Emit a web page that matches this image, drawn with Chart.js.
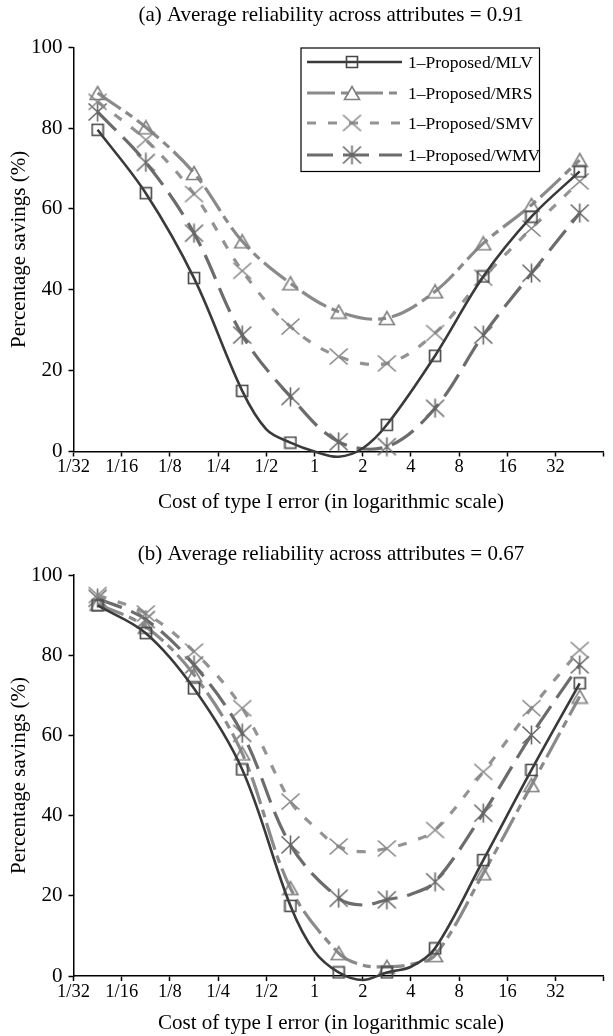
<!DOCTYPE html>
<html>
<head>
<meta charset="utf-8">
<title>Percentage savings vs cost of type I error</title>
<script src="https://cdn.jsdelivr.net/npm/chart.js@4.4.1/dist/chart.umd.min.js"></script>
<style>
  html, body { margin: 0; padding: 0; background: #fff; }
  canvas { display: block; }
</style>
</head>
<body>
<canvas id="chartA" width="613" height="515"></canvas>
<canvas id="chartB" width="613" height="521"></canvas>
<script>
// cost of type I error in log2 units, half-octave grid (markers sit on the odd half-octaves)
const costLog2 = [-4.5, -4, -3.5, -3, -2.5, -2, -1.5, -1, -0.5, 0, 0.5, 1, 1.5, 2, 2.5, 3, 3.5, 4, 4.5, 5, 5.5]
const tickLabels = ['1/32', '1/16', '1/8', '1/4', '1/2', '1', '2', '4', '8', '16', '32', '']
const seriesNames = ['1–Proposed/MLV', '1–Proposed/MRS', '1–Proposed/SMV', '1–Proposed/WMV']
const xTitle = 'Cost of type I error (in logarithmic scale)'
const yTitle = 'Percentage savings (%)'

// (a) average reliability 0.91  -- null = nothing read there
const mlvA = [79.6, null, 63.9, null, 42.9, null, 15.0, 5.5, 2.2, 0.0, -1.3, 0.8, 6.6, null, 23.7, null, 43.3, null, 58.1, null, 69.3]
const mrsA = [88.7, null, 80.2, null, 68.9, null, 52.0, null, 41.6, null, 34.6, null, 33.0, null, 39.6, null, 51.5, null, 61.0, null, 72.1]
const smvA = [86.5, null, 77.1, null, 63.7, null, 44.7, null, 30.9, null, 23.5, null, 21.8, null, 29.3, null, 43.0, null, 55.2, null, 66.8]
const wmvA = [84.0, null, 71.5, null, 54.0, null, 28.8, null, 13.6, null, 2.4, null, 1.2, null, 10.7, null, 28.8, null, 44.1, null, 59.0]

// (b) average reliability 0.67
const mlvB = [92.4, null, 85.5, null, 71.7, null, 51.5, null, 17.5, 6.1, 0.9, -1.0, 0.9, 2.3, 6.9, null, 28.9, null, 51.4, null, 73.0]
const mrsB = [92.8, null, 87.1, null, 75.1, null, 55.5, null, 21.9, null, 5.7, 2.7, 2.3, 2.9, 5.2, null, 25.6, null, 47.6, null, 69.7]
const smvB = [95.0, null, 90.4, null, 80.9, null, 66.8, null, 43.5, 37.2, 32.3, 31.0, 31.8, 33.5, 36.4, null, 50.9, null, 66.8, null, 81.3]
const wmvB = [94.2, null, 88.9, null, 77.6, null, 60.5, null, 32.7, null, 19.4, 17.7, 19.0, 20.4, 23.5, null, 40.6, null, 60.1, null, 77.6]

const FONT = "'Liberation Serif', 'Times New Roman', serif"
Chart.defaults.font.family = FONT
Chart.defaults.color = '#000'

// marker glyphs drawn once on small canvases
function marker(kind, color) {
  const c = document.createElement('canvas')
  const sizes = { square: [14, 14], triangle: [18, 16], cross: [21, 19], star: [21, 20] }
  c.width = sizes[kind][0]
  c.height = sizes[kind][1]
  const g = c.getContext('2d')
  g.strokeStyle = color
  g.lineWidth = 1.6
  g.beginPath()
  if (kind === 'square') {
    g.rect(1.5, 1.5, 11, 11)
  } else if (kind === 'triangle') {
    g.moveTo(9, 1.5); g.lineTo(16.5, 14.5); g.lineTo(1.5, 14.5); g.closePath()
  } else {
    g.moveTo(1.5, 1.5); g.lineTo(c.width - 1.5, c.height - 1.5)
    g.moveTo(c.width - 1.5, 1.5); g.lineTo(1.5, c.height - 1.5)
    if (kind === 'star') { g.moveTo(c.width / 2, 0.5); g.lineTo(c.width / 2, c.height - 0.5) }
  }
  g.stroke()
  return c
}

const looks = [
  { color: '#3a3a3a', width: 2.6, dash: [], point: marker('square', '#444') },
  { color: '#8a8a8a', width: 3.2, dash: [28, 6, 8, 6], point: marker('triangle', '#808080') },
  { color: '#939393', width: 3.2, dash: [9, 12], point: marker('cross', '#858585') },
  { color: '#6c6c6c', width: 3.2, dash: [26, 10], point: marker('star', '#666') }
]

function datasets(series) {
  return series.map((vals, s) => ({
    label: seriesNames[s],
    data: costLog2.map((x, i) => ({ x, y: vals[i] })),
    borderColor: looks[s].color,
    borderWidth: looks[s].width,
    borderDash: looks[s].dash,
    pointStyle: looks[s].point,
    // markers only on the odd half-octaves, and not below the axis
    pointRadius: ctx => (ctx.dataIndex % 2 === 0 && ctx.raw && ctx.raw.y >= 0) ? 6 : 0,
    pointHoverRadius: 0,
    tension: 0.35,
    spanGaps: true,
    clip: false,
    fill: false
  }))
}

const legendBox = {
  id: 'legendBox',
  afterDatasetsDraw(chart) {
    const ctx = chart.ctx
    ctx.save()
    ctx.fillStyle = '#fff'
    ctx.fillRect(301, 48, 238.5, 123.5)
    ctx.strokeStyle = '#000'
    ctx.lineWidth = 1.2
    ctx.strokeRect(301, 48, 238.5, 123.5)
    const rows = [62, 93, 123, 155]
    looks.forEach((lk, i) => {
      const y = rows[i]
      ctx.strokeStyle = lk.color
      ctx.lineWidth = lk.width
      ctx.setLineDash(lk.dash)
      ctx.beginPath()
      ctx.moveTo(307, y)
      ctx.lineTo(402, y)
      ctx.stroke()
      ctx.setLineDash([])
      ctx.drawImage(lk.point, 352 - lk.point.width / 2, y - lk.point.height / 2)
      ctx.fillStyle = '#000'
      ctx.font = '17.5px ' + FONT
      ctx.textAlign = 'left'
      ctx.textBaseline = 'middle'
      ctx.fillText(seriesNames[i], 408, y + 1)
    })
    ctx.restore()
  }
}

// panel heading and x-axis caption, both centred on the figure column
const captions = {
  id: 'captions',
  afterDraw(chart, args, opts) {
    const ctx = chart.ctx
    ctx.save()
    ctx.fillStyle = '#000'
    ctx.font = '21px ' + FONT
    ctx.textAlign = 'center'
    ctx.textBaseline = 'middle'
    ctx.fillText(opts.title, 331, opts.titleY)
    ctx.fillText(xTitle, 331, chart.height - 12.6)
    ctx.restore()
  }
}

function axisGrid() {
  return { drawOnChartArea: false, drawTicks: true, tickLength: 5, tickWidth: 1.5, tickColor: '#000' }
}

function buildChart(id, title, series, top, titleY, xHeight, plugins) {
  return new Chart(document.getElementById(id), {
    type: 'line',
    data: { datasets: datasets(series) },
    plugins: [captions, ...plugins],
    options: {
      responsive: false,
      animation: false,
      layout: { padding: { top, right: 1 } },
      plugins: {
        legend: { display: false },
        tooltip: { enabled: false },
        title: { display: false },
        captions: { title, titleY }
      },
      scales: {
        x: {
          type: 'linear',
          min: -5,
          max: 6,
          ticks: {
            stepSize: 1,
            autoSkip: false,
            maxRotation: 0,
            padding: 0,
            color: '#000',
            font: { size: 18.5 },
            callback: v => tickLabels[Math.round(v) + 5]
          },
          grid: axisGrid(),
          border: { display: true, color: '#000', width: 1.5 },
          afterFit: s => { s.height = xHeight }
        },
        y: {
          min: 0,
          max: 100,
          ticks: { stepSize: 20, padding: 6, color: '#000', font: { size: 21 } },
          grid: axisGrid(),
          border: { display: true, color: '#000', width: 1.5 },
          title: {
            display: true,
            text: yTitle,
            color: '#000',
            font: { size: 21 },
            padding: { top: 7, bottom: 0 }
          },
          afterFit: s => { s.width = 73.5 }
        }
      }
    }
  })
}

buildChart('chartA', '(a) Average reliability across attributes = 0.91',
  [mlvA, mrsA, smvA, wmvA], 47.3, 15, 63.5, [legendBox])
buildChart('chartB', '(b) Average reliability across attributes = 0.67',
  [mlvB, mrsB, smvB, wmvB], 60, 39, 60, [])
</script>
</body>
</html>
